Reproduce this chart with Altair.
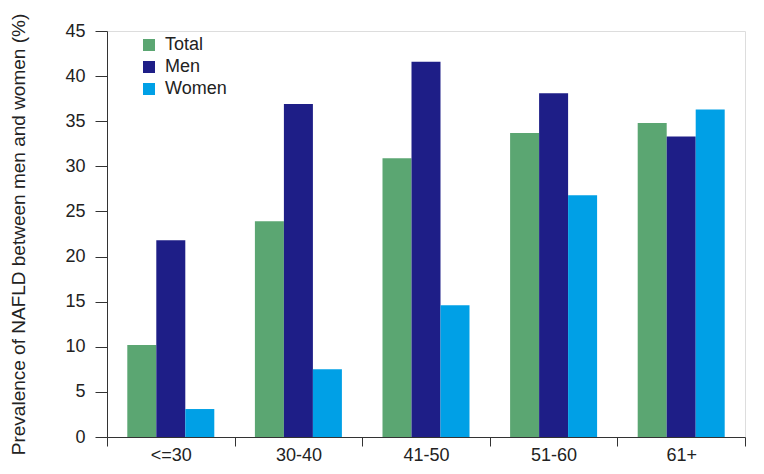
import altair as alt
import pandas as pd

ages = ["<=30", "30-40", "41-50", "51-60", "61+"]
groups = ["Total", "Men", "Women"]
total = [10.2, 23.9, 30.9, 33.7, 34.8]
men = [21.8, 36.9, 41.6, 38.1, 33.3]
women = [3.1, 7.5, 14.6, 26.8, 36.3]
colors = ["#5BA672", "#1E1E87", "#00A0E6"]

rows = []
for g, vals in zip(groups, [total, men, women]):
    for a, v in zip(ages, vals):
        rows.append({"Age": a, "Group": g, "Value": v})
df = pd.DataFrame(rows)

FONT = "Liberation Sans"

chart = alt.Chart(df).mark_bar().encode(
    x=alt.X("Age:N", sort=ages, title=None,
            scale=alt.Scale(paddingInner=0, paddingOuter=0),
            axis=alt.Axis(labelAngle=0, tickBand="extent", tickSize=9,
                          labelPadding=0, labelFontSize=18, labelFont=FONT,
                          labelColor="#222", domainColor="#333", tickColor="#333",
                          grid=False)),
    xOffset=alt.XOffset("Group:N", sort=groups,
                        scale=alt.Scale(paddingOuter=0.7, paddingInner=0)),
    y=alt.Y("Value:Q", scale=alt.Scale(domain=[0, 45], nice=False),
            title="Prevalence of NAFLD between men and women (%)",
            axis=alt.Axis(values=list(range(0, 46, 5)), tickSize=12, labelPadding=10,
                          labelFontSize=18, labelFont=FONT, labelColor="#222",
                          titleFontSize=19, titleFont=FONT, titleFontWeight="normal",
                          titleColor="#222", titleX=-79,
                          domainColor="#333", tickColor="#333", grid=False)),
    color=alt.Color("Group:N", sort=groups,
                    scale=alt.Scale(domain=groups, range=colors),
                    legend=alt.Legend(title=None, orient="none", legendX=33, legendY=5,
                                      symbolType="square", symbolSize=144,
                                      symbolStrokeWidth=0, symbolOpacity=1,
                                      labelFontSize=18, labelFont=FONT, labelColor="#222",
                                      rowPadding=4, labelOffset=7, padding=0)),
).properties(
    width=638, height=406,
    autosize=alt.AutoSizeParams(type="none"),
    padding={"left": 99, "top": 23, "right": 10, "bottom": 30},
).configure_view(stroke=None).configure(background="white")

chart.save("out.html", embed_options={"renderer": "svg", "actions": False})
